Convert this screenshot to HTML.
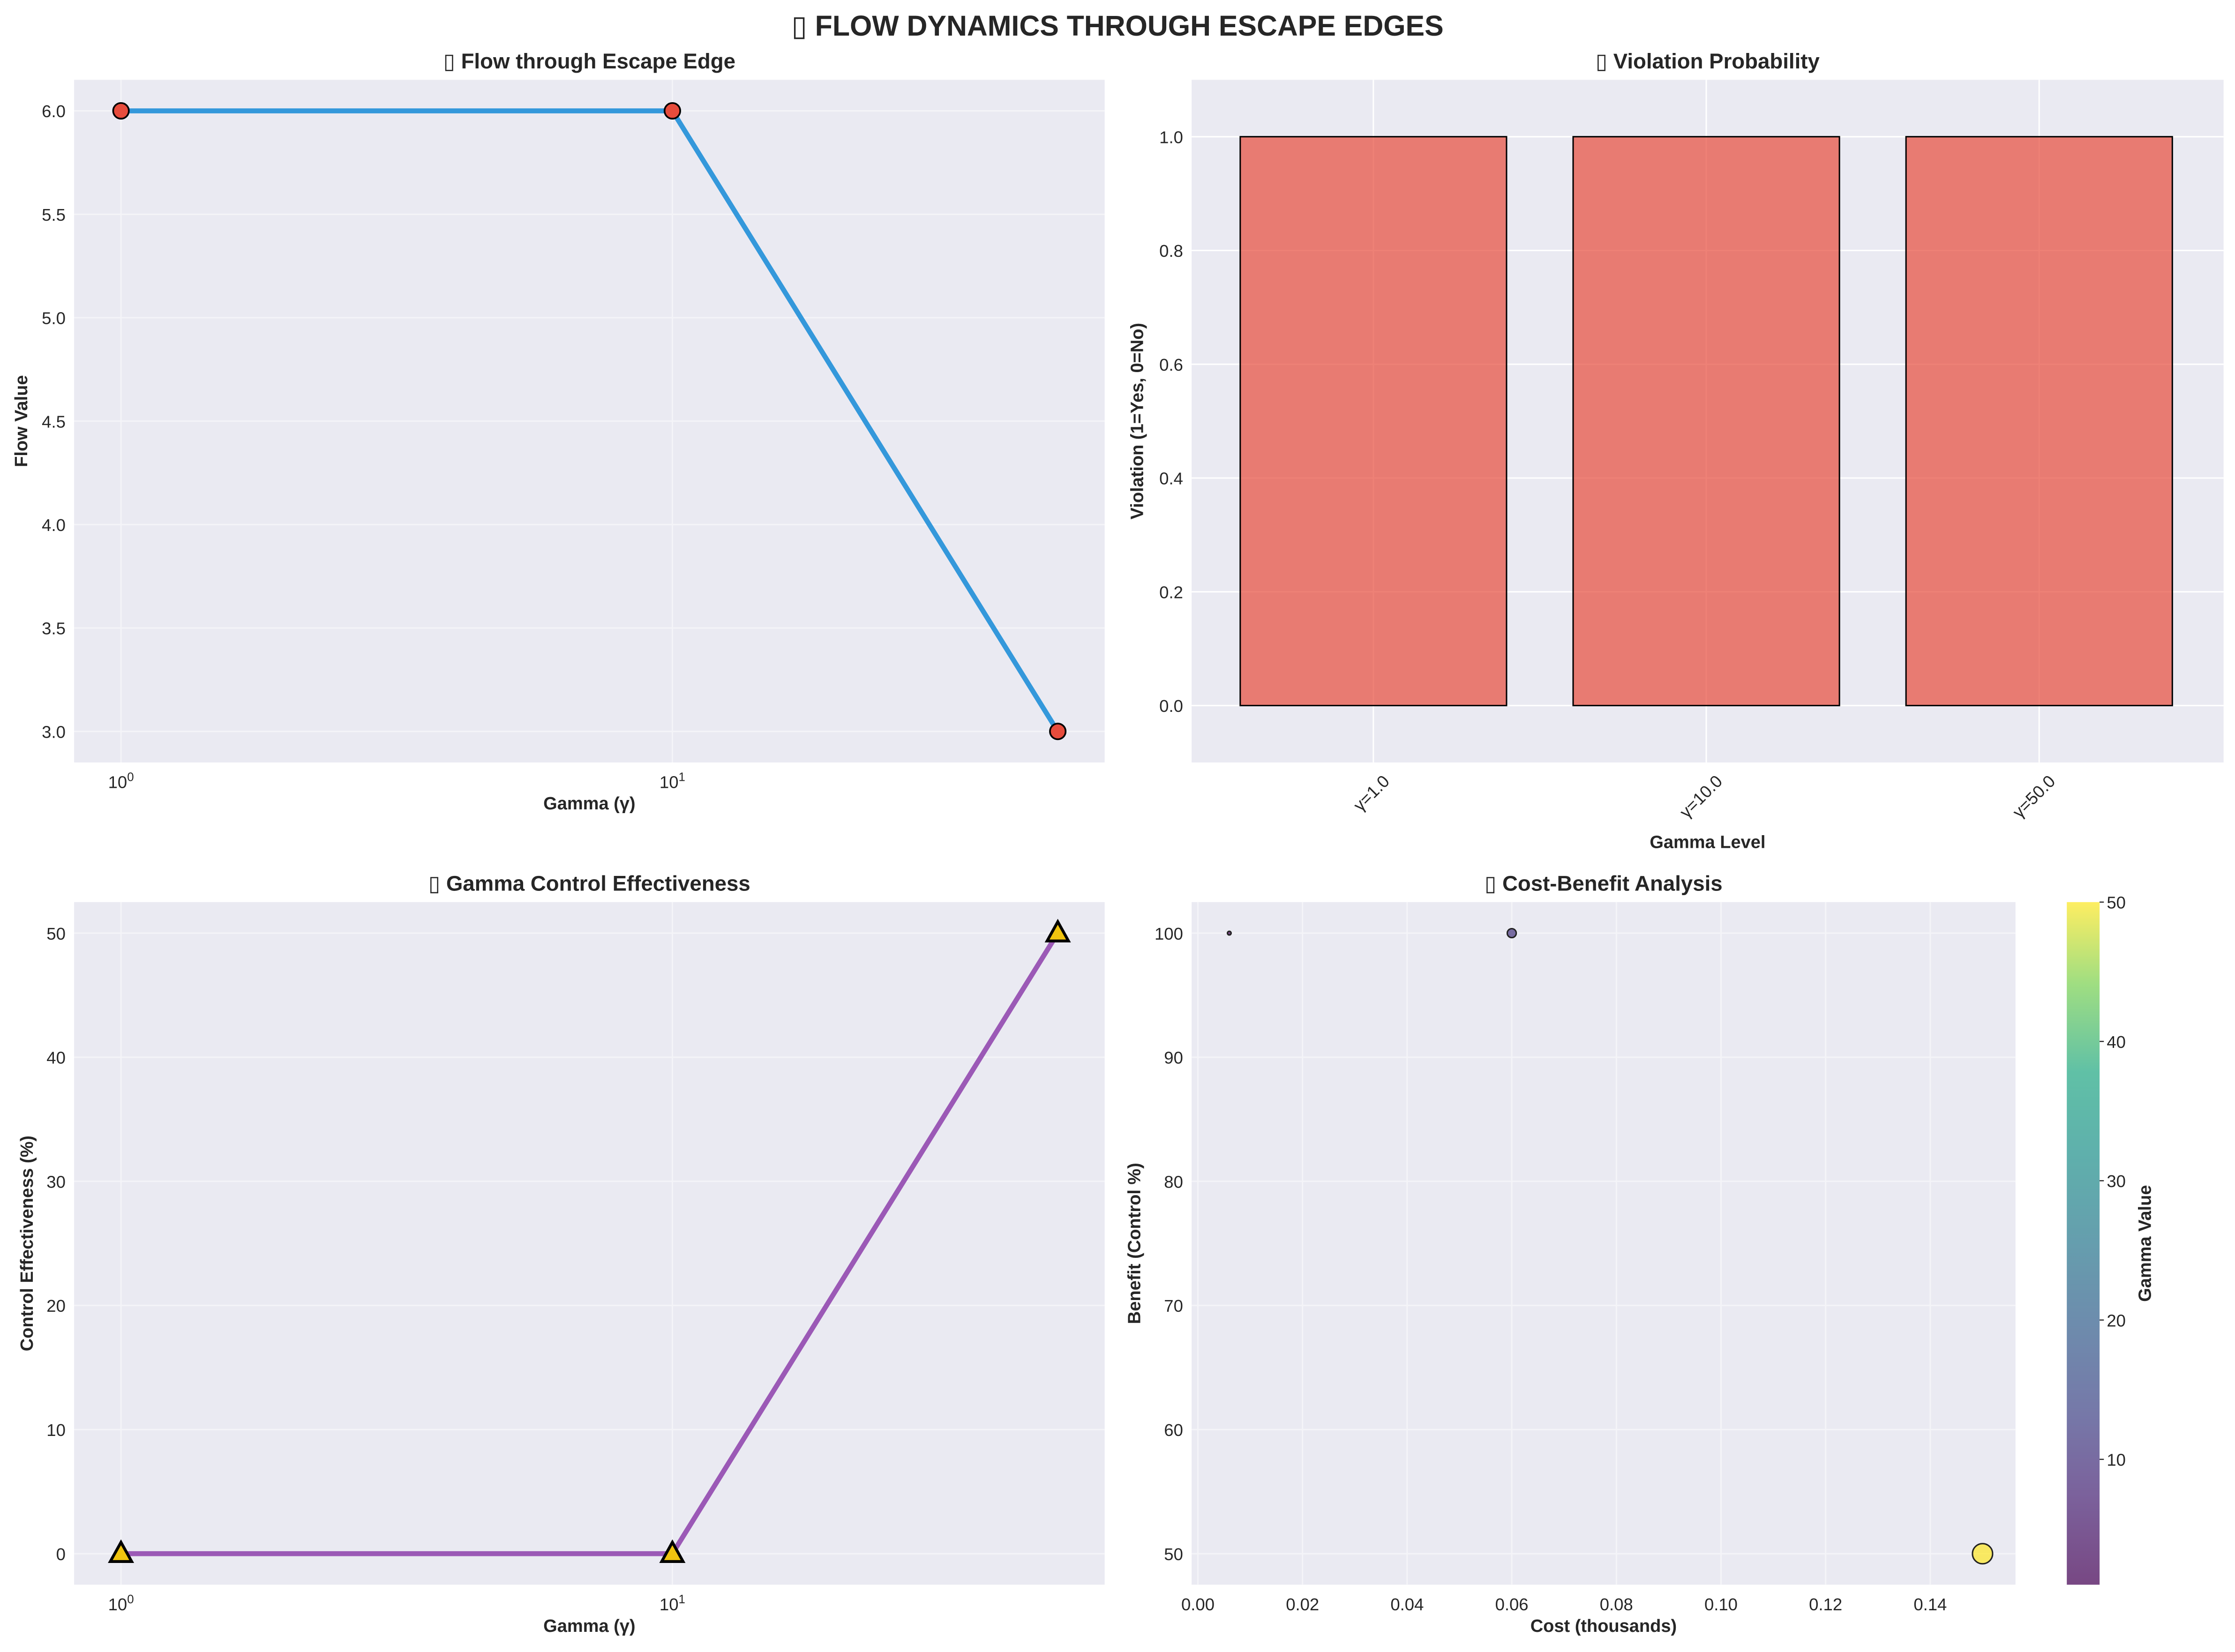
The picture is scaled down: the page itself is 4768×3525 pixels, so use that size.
<!DOCTYPE html>
<html><head><meta charset="utf-8"><style>
html,body{margin:0;padding:0;background:#fff}
svg{display:block}
text{font-family:"Liberation Sans","DejaVu Sans",sans-serif;fill:#262626}
</style></head><body>
<svg id="chart" width="4768" height="3525" viewBox="0 0 1568 1159.2" xmlns="http://www.w3.org/2000/svg">
<defs>
<linearGradient id="viridis" x1="0" y1="1" x2="0" y2="0">
<stop offset="0" stop-color="#440154"/><stop offset="0.13" stop-color="#482475"/><stop offset="0.25" stop-color="#414487"/><stop offset="0.38" stop-color="#355f8d"/><stop offset="0.5" stop-color="#2a788e"/><stop offset="0.63" stop-color="#21918c"/><stop offset="0.75" stop-color="#22a884"/><stop offset="0.88" stop-color="#7ad151"/><stop offset="1" stop-color="#fde725"/>
</linearGradient>
</defs>
<text x="784" y="25" text-anchor="middle" font-size="20" font-weight="bold">▯ FLOW DYNAMICS THROUGH ESCAPE EDGES</text>
<g id="p1"></g>
<g id="p2"></g>
<g id="p3"></g>
<g id="p4"></g>
</svg>
<script>
const gammas = [1, 10, 50];
const flowValues = [6, 6, 3];
const flowTicks = [3.0, 3.5, 4.0, 4.5, 5.0, 5.5, 6.0];
const violationLabels = ["γ=1.0", "γ=10.0", "γ=50.0"];
const violationValues = [1, 1, 1];
const violationTicks = [0.0, 0.2, 0.4, 0.6, 0.8, 1.0];
const controlValues = [0, 0, 50];
const controlTicks = [0, 10, 20, 30, 40, 50];
const costValues = [0.006, 0.06, 0.15];
const benefitValues = [100, 100, 50];
const costTicks = [0.00, 0.02, 0.04, 0.06, 0.08, 0.10, 0.12, 0.14];
const benefitTicks = [50, 60, 70, 80, 90, 100];
const colorbarTicks = [10, 20, 30, 40, 50];

const NS = "http://www.w3.org/2000/svg";
function mk(parent, tag, attrs, txt) {
  const e = document.createElementNS(NS, tag);
  for (const k in attrs) e.setAttribute(k, attrs[k]);
  if (txt !== undefined) e.textContent = txt;
  parent.appendChild(e);
  return e;
}
function lin(d0, d1, r0, r1) { return v => r0 + (v - d0) / (d1 - d0) * (r1 - r0); }
function logS(d0, d1, r0, r1) { const f = lin(Math.log10(d0), Math.log10(d1), r0, r1); return v => f(Math.log10(v)); }
function viridis(t) {
  const s = [[68,1,84],[72,36,117],[65,68,135],[53,95,141],[42,120,142],[33,145,140],[34,168,132],[122,209,81],[253,231,37]];
  const p = Math.max(0, Math.min(1, t)) * (s.length - 1), i = Math.min(Math.floor(p), s.length - 2), f = p - i;
  const c = s[i].map((v, k) => Math.round(v + (s[i + 1][k] - v) * f));
  return `rgb(${c[0]},${c[1]},${c[2]})`;
}
function axesBg(g, L, T, R, B) {
  const r = mk(g, 'rect', {x: L, y: T, width: R - L, height: B - T, fill: '#eaeaf2'});
  
  
}
function hgrid(g, L, R, y, col) { mk(g, 'line', {x1: L, x2: R, y1: y, y2: y, stroke: col, 'stroke-width': 1}); }
function vgrid(g, T, B, x, col) { mk(g, 'line', {x1: x, x2: x, y1: T, y2: B, stroke: col, 'stroke-width': 1}); }
function title(g, x, y, s) {
  const t = mk(g, 'text', {x: x, y: y, 'text-anchor': 'middle', 'font-size': 15, 'font-weight': 'bold'}, s);
  
  
}
function xlabel(g, x, y, s) {
  const t = mk(g, 'text', {x: x, y: y, 'text-anchor': 'middle', 'font-size': 12.5, 'font-weight': 'bold'}, s);
  
  
}
function ylabel(g, x, y, s) {
  const t = mk(g, 'text', {x: x, y: y, 'text-anchor': 'middle', 'font-size': 12.5, 'font-weight': 'bold', transform: `rotate(-90 ${x} ${y})`}, s);
  
  
}
function ytick(g, x, y, s) {
  const t = mk(g, 'text', {x: x, y: y + 4.5, 'text-anchor': 'end', 'font-size': 12}, s);
  
  
}
function logTick(g, x, y, exp) {
  const t = mk(g, 'text', {x: x, y: y, 'text-anchor': 'middle', 'font-size': 12});
  
  
  mk(t, 'tspan', {}, '10');
  mk(t, 'tspan', {dy: -5, 'font-size': 8.5}, String(exp));
}
const GL = '#f4f4f8';

// Panel 1
(function () {
  const g = document.getElementById('p1');
  const L = 52, R = 775, T = 56, B = 535;
  const x = logS(Math.pow(10, -0.085), Math.pow(10, 1.784), L, R);
  const y = lin(2.85, 6.15, B, T);
  axesBg(g, L, T, R, B);
  flowTicks.forEach(v => { hgrid(g, L, R, y(v), GL); ytick(g, L - 6, y(v), v.toFixed(1)); });
  [1, 10].forEach((v, i) => { vgrid(g, T, B, x(v), GL); logTick(g, x(v), B + 18, i); });
  const pts = gammas.map((v, i) => x(v) + ',' + y(flowValues[i])).join(' ');
  const pl = mk(g, 'polyline', {points: pts, fill: 'none', stroke: '#3498db', 'stroke-width': 3.5, 'stroke-linejoin': 'round'});
  
  
  gammas.forEach((v, i) => {
    const c = mk(g, 'circle', {cx: x(v), cy: y(flowValues[i]), r: 5.5, fill: '#e74c3c', stroke: '#000', 'stroke-width': 1.2});
    
    
  });
  title(g, (L + R) / 2, 48, '▯ Flow through Escape Edge');
  xlabel(g, (L + R) / 2, 568, 'Gamma (γ)');
  ylabel(g, 19, (T + B) / 2, 'Flow Value');
})();

// Panel 2
(function () {
  const g = document.getElementById('p2');
  const L = 836, R = 1560, T = 56, B = 535;
  const x = lin(-0.546, 2.554, L, R);
  const y = lin(-0.1, 1.1, B, T);
  axesBg(g, L, T, R, B);
  violationTicks.forEach(v => { hgrid(g, L, R, y(v), '#fff'); ytick(g, L - 6, y(v), v.toFixed(1)); });
  violationLabels.forEach((s, i) => {
    vgrid(g, T, B, x(i), '#fff');
    const tx = x(i) + 12, ty = B + 14;
    const t = mk(g, 'text', {x: tx, y: ty, 'text-anchor': 'end', 'font-size': 12, transform: `rotate(-45 ${tx} ${ty})`}, s);
    
    
  });
  violationValues.forEach((v, i) => {
    const w = x(0.4) - x(0);
    const r = mk(g, 'rect', {x: x(i) - w, y: y(v), width: 2 * w, height: y(0) - y(v), fill: '#e74c3c', 'fill-opacity': 0.7, stroke: '#000', 'stroke-width': 1});
    
    
  });
  title(g, (L + R) / 2, 48, '▯ Violation Probability');
  xlabel(g, (L + R) / 2, 595, 'Gamma Level');
  ylabel(g, 802, (T + B) / 2, 'Violation (1=Yes, 0=No)');
})();

// Panel 3
(function () {
  const g = document.getElementById('p3');
  const L = 52, R = 775, T = 633, B = 1112;
  const x = logS(Math.pow(10, -0.085), Math.pow(10, 1.784), L, R);
  const y = lin(-2.5, 52.5, B, T);
  axesBg(g, L, T, R, B);
  controlTicks.forEach(v => { hgrid(g, L, R, y(v), GL); ytick(g, L - 6, y(v), String(v)); });
  [1, 10].forEach((v, i) => { vgrid(g, T, B, x(v), GL); logTick(g, x(v), B + 18, i); });
  const pts = gammas.map((v, i) => x(v) + ',' + y(controlValues[i])).join(' ');
  const pl = mk(g, 'polyline', {points: pts, fill: 'none', stroke: '#9b59b6', 'stroke-width': 3.5, 'stroke-linejoin': 'round'});
  
  
  gammas.forEach((v, i) => {
    const cx = x(v), cy = y(controlValues[i]);
    const p = mk(g, 'polygon', {points: `${cx},${cy - 8} ${cx - 7.5},${cy + 5.5} ${cx + 7.5},${cy + 5.5}`, fill: '#f1c40f', stroke: '#000', 'stroke-width': 2});
    
    
  });
  title(g, (L + R) / 2, 625, '▯ Gamma Control Effectiveness');
  xlabel(g, (L + R) / 2, 1145, 'Gamma (γ)');
  ylabel(g, 23, (T + B) / 2, 'Control Effectiveness (%)');
})();

// Panel 4
(function () {
  const g = document.getElementById('p4');
  const L = 836, R = 1414, T = 633, B = 1112;
  const x = lin(-0.0012, 0.1563, L, R);
  const y = lin(47.5, 102.5, B, T);
  axesBg(g, L, T, R, B);
  benefitTicks.forEach(v => { hgrid(g, L, R, y(v), GL); ytick(g, L - 6, y(v), String(v)); });
  costTicks.forEach(v => {
    vgrid(g, T, B, x(v), GL);
    const t = mk(g, 'text', {x: x(v), y: B + 18, 'text-anchor': 'middle', 'font-size': 12}, v.toFixed(2));
    
    
  });
  costValues.forEach((c, i) => {
    const t = (gammas[i] - 1) / 49;
    const r = Math.max(1.3, Math.sqrt(gammas[i]) * 1.0);
    const e = mk(g, 'circle', {cx: x(c), cy: y(benefitValues[i]), r: r, fill: viridis(t), 'fill-opacity': 0.7, stroke: '#222', 'stroke-width': 1});
    
    
  });
  title(g, (L + R) / 2, 625, '▯ Cost-Benefit Analysis');
  xlabel(g, (L + R) / 2, 1145, 'Cost (thousands)');
  ylabel(g, 800, (T + B) / 2, 'Benefit (Control %)');
  // colorbar
  const cL = 1450, cR = 1473;
  const cy = lin(1, 50, B, T);
  const cb = mk(g, 'rect', {x: cL, y: T, width: cR - cL, height: B - T, fill: 'url(#viridis)', 'fill-opacity': 0.72});
  
  
  colorbarTicks.forEach(v => {
    mk(g, 'line', {x1: cR, x2: cR + 3, y1: cy(v), y2: cy(v), stroke: '#262626', 'stroke-width': 0.8});
    const t = mk(g, 'text', {x: cR + 5, y: cy(v) + 4.5, 'font-size': 12}, String(v));
    
    
  });
  const cl = mk(g, 'text', {x: 1509, y: (T + B) / 2, 'text-anchor': 'middle', 'font-size': 12.5, 'font-weight': 'bold', transform: `rotate(-90 1509 ${(T + B) / 2})`}, 'Gamma Value');
  
  
})();
</script>
</body></html>
